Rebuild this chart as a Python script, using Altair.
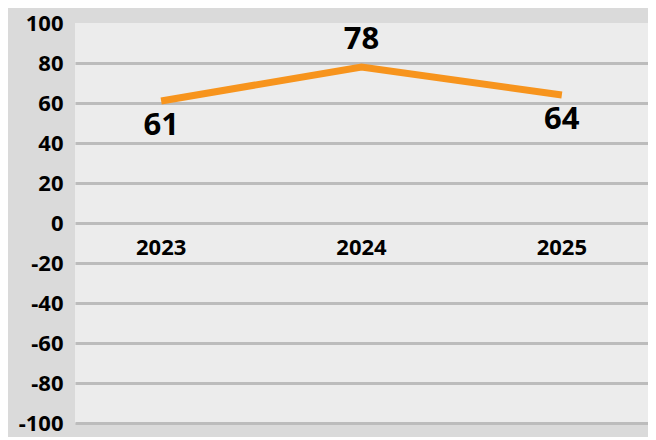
import altair as alt
import pandas as pd

years = ["2023", "2024", "2025"]
values = [61, 78, 64]
y_ticks = [-100, -80, -60, -40, -20, 0, 20, 40, 60, 80, 100]

df = pd.DataFrame({"year": years, "value": values, "zero": [0, 0, 0]})

FONT = "Noto Sans"

x_enc = alt.X("year:N", sort=years,
              scale=alt.Scale(type="point", padding=0.43),
              axis=None)
y_scale = alt.Scale(domain=[-100, 100], nice=False, zero=False)

base = alt.Chart(df)

line = base.mark_line(color="#F7941D", strokeWidth=7, strokeCap="butt").encode(
    x=x_enc,
    y=alt.Y("value:Q", scale=y_scale,
            axis=alt.Axis(values=y_ticks, tickCount=len(y_ticks), title=None,
                          domain=False, ticks=False,
                          labelExpr="'' + datum.value", labelOverlap=False,
                          labelFont=FONT, labelFontSize=22, labelFontWeight="bold",
                          labelColor="#000000", labelPadding=12,
                          gridColor=alt.condition("datum.value == 100",
                                                  alt.value("transparent"),
                                                  alt.value("#bcbcbc")),
                          gridWidth=3)),
)

labels = base.transform_joinaggregate(vmax="max(value)").transform_calculate(
    above="datum.value == datum.vmax"
)

below_txt = labels.transform_filter("!datum.above").mark_text(
    font=FONT, fontSize=31, fontWeight="bold", color="#000000", dy=25
).encode(x=x_enc, y=alt.Y("value:Q", scale=y_scale), text=alt.Text("value:Q"))

above_txt = labels.transform_filter("datum.above").mark_text(
    font=FONT, fontSize=31, fontWeight="bold", color="#000000", dy=-27
).encode(x=x_enc, y=alt.Y("value:Q", scale=y_scale), text=alt.Text("value:Q"))

year_txt = base.mark_text(
    font=FONT, fontSize=22, fontWeight="bold", color="#000000", dy=25
).encode(x=x_enc, y=alt.Y("zero:Q", scale=y_scale), text="year:N")

chart = alt.layer(line, below_txt, above_txt, year_txt).properties(
    width=573, height=400,
    background="#dadada",
    padding={"left": 67, "top": 15, "right": 0, "bottom": 14},
    autosize=alt.AutoSizeParams(type="none"),
).configure_view(fill="#ececec", stroke=None)

chart.save("out.html", embed_options={"renderer": "svg", "actions": False})
